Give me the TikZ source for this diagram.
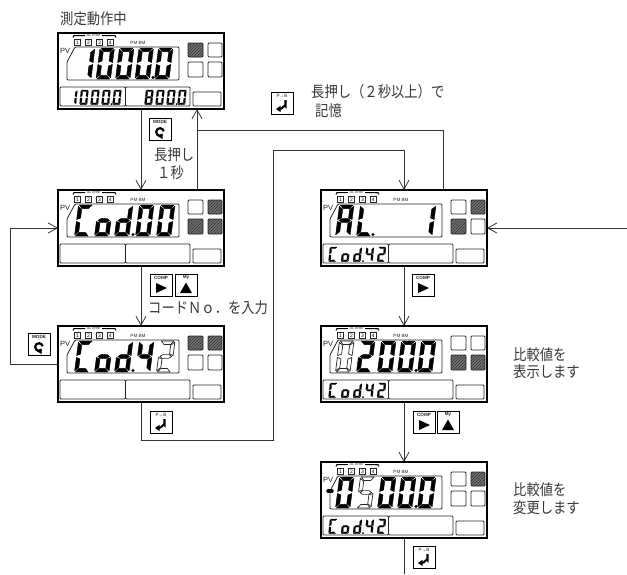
\documentclass[tikz,border=0pt]{standalone}
\usepackage{fontspec}
\setmainfont{Liberation Sans}
\newfontfamily\jp[FakeStretch=0.87]{Noto Sans CJK JP}
\usetikzlibrary{arrows.meta,patterns}
\tikzset{
  panelbox/.style={draw=black,line width=1.1pt,fill=white,minimum width=166pt,minimum height=76pt,inner sep=0pt,outer sep=0pt},
  inner/.style={draw=black!85,line width=.8pt,rounded corners=1pt},
  emp/.style={draw=black!85,line width=.8pt,rounded corners=1pt,fill=white},
  hat/.style={preaction={fill=black!55},pattern=north east lines,pattern color=black!80},
  segfill/.style={fill=black,draw=black,line width=.4pt,line join=round},
  segsm/.style={fill=black,draw=black,line width=.1pt,line join=round},
  segout/.style={fill=white,draw=black!85,line width=.7pt,line join=round},
  keybox/.style={draw=black,line width=1pt,fill=white,minimum width=22pt,minimum height=22pt,inner sep=0pt,outer sep=0pt},
  keylab/.style={font=\bfseries\fontsize{4.6}{5}\selectfont,inner sep=0pt,text=black!85},
  jptext/.style={font=\jp\fontsize{15.3}{16}\selectfont,anchor=west,inner sep=0pt,text=black!78},
  tiny/.style={font=\fontsize{4.6}{5}\selectfont,inner sep=0pt,text=black!85},
  conn/.style={draw=black!80,line width=.9pt},
  barb/.style={conn,-{Straight Barb[length=9pt,width=10pt,line width=.8pt]}},
}
\newcommand\sega{\draw[segst] (.06,1)--(.94,1)--(.72,.885)--(.28,.885)--cycle;}
\newcommand\segb{\draw[segst] (1,.96)--(1,.53)--(.74,.58)--(.74,.86)--cycle;}
\newcommand\segc{\draw[segst] (1,.47)--(1,.04)--(.74,.14)--(.74,.42)--cycle;}
\newcommand\segd{\draw[segst] (.06,0)--(.94,0)--(.72,.115)--(.28,.115)--cycle;}
\newcommand\sege{\draw[segst] (0,.47)--(0,.04)--(.26,.14)--(.26,.42)--cycle;}
\newcommand\segf{\draw[segst] (0,.96)--(0,.53)--(.26,.58)--(.26,.86)--cycle;}
\newcommand\segg{\draw[segst] (.1,.5)--(.28,.56)--(.72,.56)--(.9,.5)--(.72,.44)--(.28,.44)--cycle;}
\newcommand\dig[7]{\begin{scope}[shift={(#1,#2)},x={(#3pt,0pt)},y={(#5pt,#4pt)},segst/.style={#7}]
  \edef\seglist{#6}\foreach \s in \seglist{\csname seg\s\endcsname}\end{scope}}
\newcommand\md[2]{\dig{#1-1.5}{46}{14.5}{31}{4}{#2}{segfill}}
\newcommand\mo[2]{\dig{#1-1.5}{46}{14.5}{31}{4}{#2}{segout}}
\newcommand\sd[2]{\dig{#1-.5}{71.5}{7.5}{14.5}{1.5}{#2}{segsm}}
\newcommand\mdot[1]{\fill[black] (#1,44.5) circle (1.7pt);}
\newcommand\sdot[1]{\fill[black] (#1,71) circle (1pt);}
\def\dZ{a,b,c,d,e,f}\def\dE{a,b,c,d,e,f,g}\def\dO{b,c}
\newcommand\cod{\sd{8}{a,d,e,f}\sd{20.5}{c,d,e,g}\sd{32.5}{b,c,d,e,g}\sdot{42}\sd{44.5}{b,c,f,g}\sd{56.5}{a,b,d,e,g}}
\newcommand\panel[7]{%
  \begin{scope}[shift={(#2,#3)}]
  \node[panelbox] (#1) at (83,38) {};
  \draw[black,line width=1pt] (15,4.5)--(16,2.5)--(27,2.5) (44,2.5)--(57,2.5)--(58,4.5);
  \node[tiny,font=\fontsize{3.6}{4}\selectfont] (#1al) at (35.5,2.5) {AL ARM};
  \foreach \n/\xx in {1/16,2/27,3/38,4/48.7}{
    \node[draw=black!85,line width=.6pt,minimum width=6.4pt,minimum height=6.4pt,inner sep=0pt,anchor=north west,font=\fontsize{5}{5}\selectfont] (#1b\n) at (\xx,6) {\n};}
  \node[tiny] (#1pm) at (80,10) {PM BM};
  \node[font=\fontsize{7.5}{8}\selectfont,inner sep=0pt,anchor=west,text=black!85] (#1pv) at (2,18) {PV};
  \draw[inner] (17,14)--(121,14)--(121,47)--(9,47)--(9,29)--cycle;
  \path[emp,#4] (130,10) rectangle (145,24);
  \path[emp,#5] (150,10) rectangle (164,24);
  \path[emp,#6] (130,29) rectangle (145,44);
  \path[emp,#7] (150,29) rectangle (164,44);
  \draw[inner] (2,54) rectangle (67.5,73);
  \draw[inner] (67.5,54) rectangle (132,73);
  \draw[inner] (135,59) rectangle (163,73);
  \panelcontent
  \end{scope}}
\begin{document}
\begin{tikzpicture}[x=1pt,y=-1pt]
\useasboundingbox (0,0) rectangle (627,574);
\fill[white] (0,0) rectangle (627,574);
% panels
\def\panelcontent{\md{20}{\dO}\md{39.5}{\dZ}\md{59}{\dZ}\md{78.5}{\dZ}\md{98}{\dZ}\mdot{95}%
 \sd{11}{\dO}\sd{22}{\dZ}\sd{33}{\dZ}\sd{44}{\dZ}\sd{55}{\dZ}\sdot{53.5}%
 \sd{87}{\dE}\sd{98}{\dZ}\sd{109}{\dZ}\sd{120}{\dZ}\sdot{118.5}}
\panel{p1}{58}{33}{hat}{emp}{emp}{emp}
\def\panelcontent{\md{18}{a,d,e,f}\md{38}{c,d,e,g}\md{58}{b,c,d,e,g}\mdot{75}\md{79}{\dZ}\md{100}{\dZ}}
\panel{p2}{58}{190}{emp}{hat}{hat}{hat}
\def\panelcontent{\md{18}{a,d,e,f}\md{38}{c,d,e,g}\md{58}{b,c,d,e,g}\mdot{75}\md{79}{b,c,f,g}\mo{100}{a,b,d,e,g}}
\panel{p3}{58}{326}{hat}{hat}{emp}{emp}
\def\panelcontent{\md{16}{a,b,c,e,f,g}\md{37}{d,e,f}\mdot{52}\md{98}{\dO}\cod}
\panel{r1}{321}{190}{emp}{hat}{hat}{emp}
\def\panelcontent{\mo{16}{\dZ}\md{37}{a,b,d,e,g}\md{58}{\dZ}\md{78}{\dZ}\md{98}{\dZ}\mdot{95}\cod}
\panel{r2}{321}{326}{emp}{emp}{hat}{hat}
\def\panelcontent{\draw[black,line width=3.4pt,line cap=round] (7,29)--(11,29);\md{16}{\dZ}\mo{37}{a,c,d,f,g}\md{58}{\dZ}\md{78}{\dZ}\md{98}{\dZ}\mdot{95}\cod}
\panel{r3}{321}{462}{emp}{hat}{emp}{emp}
% keys
\newcommand\keymode[3]{\begin{scope}[shift={(#2,#3)}]\node[keybox] (#1) at (11,11) {};
  \node[keylab] (#1l) at (11,3.8) {MODE};
  \draw[black,line width=2.2pt] (11,14) ++(50:3.8) arc[start angle=50,end angle=350,radius=3.8];
  \fill[black] (8.5,18)--(13.5,15.5)--(13.5,21)--cycle;\end{scope}}
\newcommand\keyret[3]{\begin{scope}[shift={(#2,#3)}]\node[keybox] (#1) at (11,11) {};
  \node[keylab,font=\fontsize{4.6}{5}\selectfont] (#1l) at (11,3.8) {P→B};
  \draw[black,line width=2.1pt] (14.5,8)--(14.5,14) to[out=90,in=0] (9,17);
  \fill[black] (5,17)--(9.5,13.8)--(9.5,20)--cycle;\end{scope}}
\newcommand\keycomp[3]{\begin{scope}[shift={(#2,#3)}]\node[keybox] (#1) at (11,11) {};
  \node[keylab] (#1l) at (11,3.8) {COMP};
  \fill[black] (6,9)--(6,19)--(17,14)--cycle;\end{scope}}
\newcommand\keymy[3]{\begin{scope}[shift={(#2,#3)}]\node[keybox] (#1) at (11,11) {};
  \node[keylab] (#1l) at (11,3.8) {My};
  \fill[black] (5,19)--(17,19)--(11,8.5)--cycle;\end{scope}}
\keymode{k1}{149}{118}
\keyret{k2}{271}{92}
\keycomp{k3}{150}{274}
\keymy{k4}{175}{274}
\keymode{k5}{28}{333}
\keyret{k6}{150}{411}
\keycomp{k7}{412}{274}
\keycomp{k8}{413}{411}
\keymy{k9}{437}{411}
\keyret{k10}{413}{546}
% texts
\node[jptext] (t1) at (60,19) {測定動作中};
\node[jptext] (t2) at (154,155) {長押し};
\node[jptext] (t3) at (157,173) {１秒};
\node[jptext] (t4) at (311,92) {長押し（２秒以上）で};
\node[jptext] (t5) at (315,111) {記憶};
\node[jptext] (t6) at (148,308) {コードＮｏ．を入力};
\node[jptext] (t7) at (513,355) {比較値を};
\node[jptext] (t8) at (513,372) {表示します};
\node[jptext] (t9) at (513,490) {比較値を};
\node[jptext] (t10) at (513,508) {変更します};
% connectors
\coordinate (u1) at (197,190);
\coordinate (j1) at (197,130);
\coordinate (c1) at (443,130);
\coordinate (c2) at (273,440);
\coordinate (c3) at (273,150);
\coordinate (c4) at (10,364);
\coordinate (c5) at (10,228);
\coordinate (c6) at (627,228);
\coordinate (c7) at (404,574);
\draw[barb] (p1.south) -- (p2.north);
\draw[barb] (u1) -- (u1 |- p1.south);
\draw[conn] (j1) -- (c1) -- (c1 |- r1.north);
\draw[barb] (p2.south) -- (p3.north);
\draw[barb] (p3.south) -- (p3.south |- c2) -- (c2) -- (c3) -- (c3 -| r1.north) -- (r1.north);
\draw[barb] (p3.west) -- (c4) -- (c5) -- (p2.west);
\draw[barb] (c6) -- (r1.east);
\draw[barb] (r1.south) -- (r2.north);
\draw[barb] (r2.south) -- (r3.north);
\draw[conn] (r3.south) -- (c7);
\end{tikzpicture}
\end{document}
